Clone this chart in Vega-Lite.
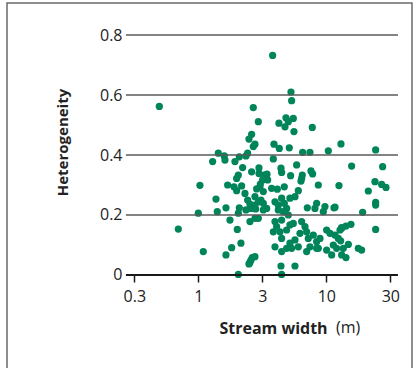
{
  "$schema": "https://vega.github.io/schema/vega-lite/v6.json",
  "width": 405,
  "height": 367,
  "autosize": {"type": "none"},
  "padding": {"left": 7, "top": 3, "right": 3, "bottom": 0},
  "background": "white",
  "config": {"view": {"stroke": "#6a6a6a", "strokeWidth": 1.5}, "font": "Open Sans"},
  "datasets": {
    "grid": [{"h": 0.2}, {"h": 0.4}, {"h": 0.6}, {"h": 0.8}],
    "points": [
      {"w": 0.496, "het": 0.562}, {"w": 0.698, "het": 0.153}, {"w": 1.03, "het": 0.299}, {"w": 1.0, "het": 0.206},
      {"w": 1.094, "het": 0.078}, {"w": 1.294, "het": 0.378}, {"w": 1.433, "het": 0.406}, {"w": 1.597, "het": 0.397},
      {"w": 1.616, "het": 0.383}, {"w": 1.374, "het": 0.253}, {"w": 1.407, "het": 0.211}, {"w": 1.645, "het": 0.224},
      {"w": 1.645, "het": 0.067}, {"w": 1.822, "het": 0.091}, {"w": 1.768, "het": 0.183}, {"w": 2.017, "het": 0.152},
      {"w": 2.154, "het": 0.106}, {"w": 2.054, "het": 0.002}, {"w": 1.695, "het": 0.3}, {"w": 1.9, "het": 0.294},
      {"w": 1.993, "het": 0.281}, {"w": 2.18, "het": 0.297}, {"w": 2.091, "het": 0.224}, {"w": 2.054, "het": 0.206},
      {"w": 1.934, "het": 0.378}, {"w": 2.091, "het": 0.394}, {"w": 2.429, "het": 0.406}, {"w": 2.357, "het": 0.397},
      {"w": 2.22, "het": 0.358}, {"w": 2.054, "het": 0.333}, {"w": 1.993, "het": 0.322}, {"w": 2.61, "het": 0.469},
      {"w": 2.488, "het": 0.453}, {"w": 2.771, "het": 0.436}, {"w": 2.689, "het": 0.428}, {"w": 2.689, "het": 0.558},
      {"w": 2.943, "het": 0.511}, {"w": 2.61, "het": 0.344}, {"w": 2.979, "het": 0.357}, {"w": 2.979, "het": 0.338},
      {"w": 3.258, "het": 0.333}, {"w": 3.44, "het": 0.336}, {"w": 3.481, "het": 0.317}, {"w": 3.181, "het": 0.317},
      {"w": 3.051, "het": 0.303}, {"w": 2.315, "het": 0.272}, {"w": 2.429, "het": 0.25}, {"w": 2.533, "het": 0.236},
      {"w": 2.641, "het": 0.224}, {"w": 2.771, "het": 0.233}, {"w": 2.943, "het": 0.244}, {"w": 3.087, "het": 0.25},
      {"w": 3.22, "het": 0.239}, {"w": 2.856, "het": 0.287}, {"w": 3.033, "het": 0.294}, {"w": 3.22, "het": 0.278},
      {"w": 2.357, "het": 0.217}, {"w": 2.579, "het": 0.222}, {"w": 2.805, "het": 0.22}, {"w": 2.533, "het": 0.178},
      {"w": 2.771, "het": 0.189}, {"w": 2.943, "het": 0.189}, {"w": 2.641, "het": 0.058}, {"w": 2.579, "het": 0.05},
      {"w": 2.533, "het": 0.042}, {"w": 2.488, "het": 0.037},
      {"w": 3.809, "het": 0.732}, {"w": 5.297, "het": 0.61}, {"w": 5.36, "het": 0.581}, {"w": 4.267, "het": 0.506},
      {"w": 4.84, "het": 0.524}, {"w": 5.048, "het": 0.511}, {"w": 5.523, "het": 0.522}, {"w": 4.754, "het": 0.494},
      {"w": 5.589, "het": 0.478}, {"w": 7.772, "het": 0.492}, {"w": 3.901, "het": 0.436}, {"w": 4.293, "het": 0.422},
      {"w": 5.139, "het": 0.424}, {"w": 6.533, "het": 0.409}, {"w": 7.453, "het": 0.409}, {"w": 10.37, "het": 0.414},
      {"w": 13.02, "het": 0.437}, {"w": 3.855, "het": 0.387}, {"w": 4.424, "het": 0.356}, {"w": 4.477, "het": 0.342},
      {"w": 5.262, "het": 0.331}, {"w": 5.864, "het": 0.367}, {"w": 6.494, "het": 0.333}, {"w": 6.416, "het": 0.322},
      {"w": 6.34, "het": 0.313}, {"w": 7.588, "het": 0.347}, {"w": 7.819, "het": 0.337}, {"w": 8.66, "het": 0.3},
      {"w": 12.56, "het": 0.298}, {"w": 3.741, "het": 0.289}, {"w": 4.142, "het": 0.286}, {"w": 4.697, "het": 0.294},
      {"w": 6.042, "het": 0.281}, {"w": 5.691, "het": 0.261}, {"w": 2.771, "het": 0.261}, {"w": 3.419, "het": 0.222},
      {"w": 3.22, "het": 0.217}, {"w": 3.972, "het": 0.244}, {"w": 4.217, "het": 0.233}, {"w": 4.477, "het": 0.256},
      {"w": 4.697, "het": 0.239}, {"w": 4.899, "het": 0.222}, {"w": 4.614, "het": 0.211}, {"w": 4.217, "het": 0.217},
      {"w": 5.2, "het": 0.256}, {"w": 7.105, "het": 0.224}, {"w": 8.403, "het": 0.239}, {"w": 8.155, "het": 0.222},
      {"w": 9.763, "het": 0.228}, {"w": 9.475, "het": 0.211}, {"w": 11.48, "het": 0.224}, {"w": 5.048, "het": 0.2},
      {"w": 4.477, "het": 0.183}, {"w": 3.972, "het": 0.178}, {"w": 4.093, "het": 0.161}, {"w": 3.855, "het": 0.144},
      {"w": 4.345, "het": 0.144}, {"w": 4.899, "het": 0.15}, {"w": 5.2, "het": 0.167}, {"w": 5.523, "het": 0.172},
      {"w": 6.416, "het": 0.178}, {"w": 6.813, "het": 0.161}, {"w": 7.021, "het": 0.144}, {"w": 6.227, "het": 0.139},
      {"w": 4.477, "het": 0.122}, {"w": 5.2, "het": 0.106}, {"w": 5.691, "het": 0.117}, {"w": 6.042, "het": 0.094},
      {"w": 5.36, "het": 0.089}, {"w": 4.899, "het": 0.089}, {"w": 7.233, "het": 0.122}, {"w": 7.913, "het": 0.133},
      {"w": 8.403, "het": 0.111}, {"w": 8.924, "het": 0.122}, {"w": 8.403, "het": 0.089}, {"w": 7.453, "het": 0.094},
      {"w": 10.06, "het": 0.15}, {"w": 10.68, "het": 0.139}, {"w": 11.69, "het": 0.133}, {"w": 12.41, "het": 0.122},
      {"w": 13.18, "het": 0.156}, {"w": 11.34, "het": 0.1}, {"w": 12.04, "het": 0.089}, {"w": 10.06, "het": 0.083},
      {"w": 11.01, "het": 0.067}, {"w": 13.18, "het": 0.067}, {"w": 13.58, "het": 0.089}, {"w": 7.021, "het": 0.078},
      {"w": 8.66, "het": 0.089}, {"w": 3.972, "het": 0.094}, {"w": 4.477, "het": 0.078}, {"w": 2.771, "het": 0.061},
      {"w": 4.424, "het": 0.03}, {"w": 5.691, "het": 0.03}, {"w": 4.477, "het": 0.002},
      {"w": 24.29, "het": 0.417}, {"w": 15.77, "het": 0.363}, {"w": 27.55, "het": 0.361}, {"w": 24.0, "het": 0.311},
      {"w": 27.06, "het": 0.302}, {"w": 29.25, "het": 0.292}, {"w": 21.29, "het": 0.28}, {"w": 24.29, "het": 0.242},
      {"w": 24.29, "het": 0.233}, {"w": 19.23, "het": 0.209}, {"w": 11.69, "het": 0.226}, {"w": 15.58, "het": 0.169},
      {"w": 14.24, "het": 0.163}, {"w": 13.18, "het": 0.158}, {"w": 12.79, "het": 0.15}, {"w": 24.29, "het": 0.152},
      {"w": 12.94, "het": 0.114}, {"w": 14.86, "het": 0.102}, {"w": 17.78, "het": 0.089}, {"w": 18.88, "het": 0.083},
      {"w": 14.24, "het": 0.058}
    ]
  },
  "layer": [
    {
      "data": {"name": "points"},
      "mark": {"type": "circle", "size": 52, "color": "#00845a", "opacity": 1},
      "encoding": {
        "x": {
          "field": "w", "type": "quantitative",
          "scale": {"type": "log", "domain": [0.03202, 46.72], "nice": false},
          "axis": {
            "values": [0.31623, 1, 3.16228, 10, 31.6228],
            "labelExpr": "datum.value < 0.5 ? '0.3' : datum.value < 2 ? '1' : datum.value < 5 ? '3' : datum.value < 20 ? '10' : '30'",
            "offset": -95, "domain": false, "grid": false,
            "tickSize": 7, "tickColor": "#1a1a1a", "tickWidth": 1.5,
            "labelFont": "Open Sans", "labelFontSize": 16, "labelColor": "#222", "labelPadding": 6,
            "title": "Stream width", "titleFont": "Open Sans", "titleFontSize": 16, "titleFontWeight": "bold", "titleColor": "#222",
            "titleX": 266, "titleY": 53, "titleAlign": "center", "titleBaseline": "middle", "titleAnchor": null
          }
        },
        "y": {
          "field": "het", "type": "quantitative",
          "scale": {"domain": [-0.3167, 0.9067], "nice": false, "zero": false},
          "axis": {
            "values": [0, 0.2, 0.4, 0.6, 0.8],
            "labelExpr": "datum.value == 0 ? '0' : format(datum.value, '.1f')",
            "offset": -119, "domain": false, "grid": false, "ticks": false,
            "labelFont": "Open Sans", "labelFontSize": 16, "labelColor": "#222", "labelPadding": 4,
            "title": "Heterogeneity", "titleFont": "Open Sans", "titleFontSize": 15, "titleFontWeight": "bold", "titleColor": "#222",
            "titleAngle": -90, "titleX": -64, "titleY": 139, "titleAlign": "center", "titleBaseline": "middle"
          }
        }
      }
    },
    {
      "data": {"name": "grid"},
      "mark": {"type": "rule", "color": "#5a5a5a", "strokeWidth": 1.5},
      "encoding": {
        "y": {"field": "h", "type": "quantitative"},
        "x": {"datum": 0.272, "type": "quantitative"},
        "x2": {"datum": 36.3}
      }
    },
    {
      "data": {"values": [{}]},
      "mark": {"type": "rule", "color": "#1a1a1a", "strokeWidth": 2.2},
      "encoding": {
        "y": {"datum": 0, "type": "quantitative"},
        "x": {"datum": 0.272, "type": "quantitative"},
        "x2": {"datum": 36.3}
      }
    },
    {
      "data": {"values": [{"t": "(m)"}]},
      "mark": {"type": "text", "align": "left", "baseline": "middle", "font": "Open Sans", "fontSize": 16, "color": "#222"},
      "encoding": {
        "text": {"field": "t"},
        "x": {"datum": 11.9, "type": "quantitative"},
        "y": {"datum": -0.177, "type": "quantitative"}
      }
    }
  ]
}
